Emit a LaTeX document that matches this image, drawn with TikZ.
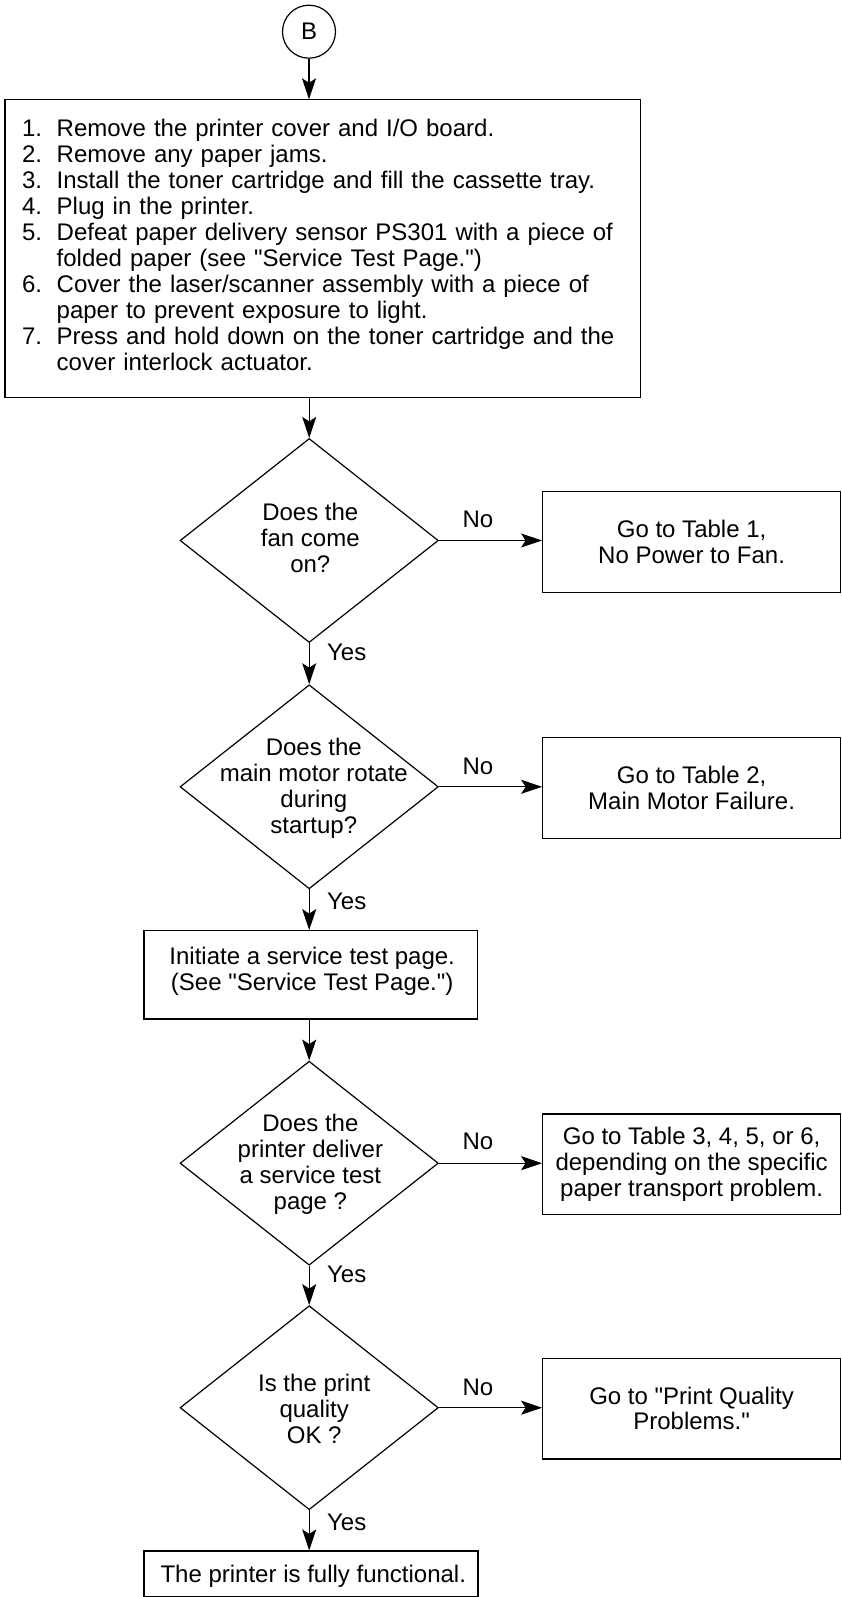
\documentclass[tikz,border=0pt]{standalone}
\usepackage{fontspec}
\setmainfont{Liberation Sans}[Ligatures=TeXOff]
\usetikzlibrary{shapes.geometric,arrows.meta}
\newcommand\numitem[1]{\makebox[34.6pt][l]{#1}}
\begin{document}
\begin{tikzpicture}[x=1pt,y=-1pt,
  line width=1.2pt,
  every node/.style={font=\fontsize{24}{26}\selectfont},
  boxnode/.style={draw, rectangle, inner sep=0pt, align=center},
  rbox/.style={boxnode, minimum width=297.8pt, minimum height=100.5pt, font=\fontsize{24}{25.3}\selectfont},
  dia/.style={draw, diamond, inner sep=0pt, minimum width=258.3pt, minimum height=204pt},
  txt/.style={inner sep=0pt, align=center},
  lbl/.style={inner sep=0pt},
  arr/.style={-{Stealth[length=21pt,width=14pt,inset=4.5pt]}, line width=1.1pt},
]
\useasboundingbox (0,0) rectangle (841,1597);

% start connector
\node[circle, draw, minimum size=53pt, inner sep=0pt] (B) at (309,31.7) {B};

% steps box
\node[boxnode, anchor=north west, minimum width=635.2pt, minimum height=297.7pt,
      text width=600.8pt, inner xsep=17.2pt, align=left] (s1) at (4.3,99.3)
{\noindent\begin{tabular}{@{}l@{}l@{}}
\numitem{1.} & Remove the printer cover and I/O board.\\
\numitem{2.} & Remove any paper jams.\\
\numitem{3.} & Install the toner cartridge and fill the cassette tray.\\
\numitem{4.} & Plug in the printer.\\
\numitem{5.} & Defeat paper delivery sensor PS301 with a piece of\\
             & folded paper (see "Service Test Page.")\\
\numitem{6.} & Cover the laser/scanner assembly with a piece of\\
             & paper to prevent exposure to light.\\
\numitem{7.} & Press and hold down on the toner cartridge and the\\
             & cover interlock actuator.
\end{tabular}};

% decisions
\node[dia] (d1) at (309.2,540.5) {};
\node[txt] (d1t) at (310.3,538.4) {Does the\\fan come\\on?};
\node[dia] (d2) at (309.2,786.8) {};
\node[txt] (d2t) at (313.8,788.3) {Does the\\main motor rotate\\during\\startup?};
\node[dia] (d3) at (309.2,1163.2) {};
\node[txt] (d3t) at (310.4,1164.5) {Does the\\printer deliver\\a service test\\page ?};
\node[dia] (d4) at (309.2,1407.7) {};
\node[txt] (d4t) at (314.2,1409.2) {Is the print\\quality\\OK ?};

% service test box
\node[boxnode, minimum width=333.7pt, minimum height=88.3pt] (svc) at (310.85,974.85) {};
\node[txt] (svct) at (312.2,970.8) {Initiate a service test page.\\(See "Service Test Page.")};

% final box
\node[boxnode, minimum width=334pt, minimum height=45.6pt] (fin) at (311,1573.8) {};
\node[txt] (fint) at (313.3,1576.5) {The printer is fully functional.};

% right boxes
\node[rbox] (t1) at (691.6,542) {Go to Table 1,\\No Power to Fan.};
\node[rbox] (t2) at (691.6,788) {Go to Table 2,\\Main Motor Failure.};
\node[rbox, font=\fontsize{24}{26}\selectfont] (t3) at (691.6,1164.2) {Go to Table 3, 4, 5, or 6,\\depending on the specific\\paper transport problem.};
\node[rbox] (t4) at (691.6,1408.7) {Go to "Print Quality\\Problems."};

% labels
\node[lbl] (no1) at (478,519.3) {No};
\node[lbl] (no2) at (478,766.7) {No};
\node[lbl] (no3) at (478,1141.7) {No};
\node[lbl] (no4) at (478,1387.7) {No};
\node[lbl] (yes1) at (346.7,652.3) {Yes};
\node[lbl] (yes2) at (346.7,901.7) {Yes};
\node[lbl] (yes3) at (346.7,1274.8) {Yes};
\node[lbl] (yes4) at (346.7,1522.5) {Yes};

% connectors
\draw[arr] (B) -- (B |- s1.north);
\draw[arr] (s1.south -| d1.north) -- (d1.north);
\draw[arr] (d1.south) -- (d2.north);
\draw[arr] (d2.south) -- (d2.south |- svc.north);
\draw[arr] (svc.south -| d3.north) -- (d3.north);
\draw[arr] (d3.south) -- (d4.north);
\draw[arr] (d4.south) -- (d4.south |- fin.north);
\draw[arr] (d1.east) -- (d1.east -| t1.west);
\draw[arr] (d2.east) -- (d2.east -| t2.west);
\draw[arr] (d3.east) -- (d3.east -| t3.west);
\draw[arr] (d4.east) -- (d4.east -| t4.west);
\end{tikzpicture}
\end{document}
